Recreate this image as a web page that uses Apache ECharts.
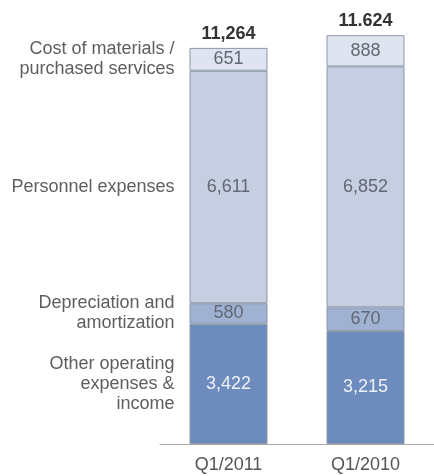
<!DOCTYPE html>
<html>
<head>
<meta charset="utf-8">
<script src="https://cdn.jsdelivr.net/npm/echarts@6/dist/echarts.min.js"></script>
<style>
  html, body { margin: 0; padding: 0; background: #fff; }
  #chart { width: 434px; height: 476px; }
</style>
</head>
<body>
<div id="chart"></div>
<script>
// periods (x axis)
const periods = ['Q1/2011', 'Q1/2010'];

// stacked segments, bottom to top
const segmentNames = [
  'Other operating\nexpenses &\nincome',
  'Depreciation and\namortization',
  'Personnel expenses',
  'Cost of materials /\npurchased services'
];
const otherOperating = [3422, 3215];
const depreciation = [580, 670];
const personnel = [6611, 6852];
const materials = [651, 888];

// totals shown above bars (as printed)
const totals = [11264, 11624];
const totalLabels = ['11,264', '11.624'];

const font = "'Liberation Sans', Arial, sans-serif";
const segmentValues = [otherOperating, depreciation, personnel, materials];
const segmentColors = ['#6d8cbd', '#a0b2d2', '#c6cee1', '#dfe4f0'];
const valueColors = ['#eef1f7', '#626773', '#626773', '#626773'];

const chart = echarts.init(document.getElementById('chart'));

const series = [];

// the visible stacked bars
segmentValues.forEach((vals, i) => {
  series.push({
    name: segmentNames[i],
    type: 'bar',
    stack: 'main',
    barWidth: 78,
    data: vals,
    itemStyle: {
      color: segmentColors[i],
      borderColor: '#8c96a8',
      borderWidth: 1
    },
    label: {
      show: true,
      position: 'inside',
      fontFamily: font,
      fontSize: 18,
      color: valueColors[i],
      formatter: (p) => p.value.toLocaleString('en-US')
    },
    silent: true
  });
});

// invisible copy on the first bar, only to place the segment names on the left
segmentValues.forEach((vals, i) => {
  series.push({
    type: 'bar',
    stack: 'names',
    barWidth: 78,
    data: [vals[0], '-'],
    itemStyle: { color: 'rgba(0,0,0,0)' },
    label: {
      show: true,
      position: 'left',
      distance: 15,
      align: 'right',
      fontFamily: font,
      fontSize: 18,
      lineHeight: 20,
      color: '#5e5e5e',
      formatter: segmentNames[i]
    },
    silent: true
  });
});

// totals above each bar
series.push({
  type: 'bar',
  barWidth: 78,
  barGap: '-100%',
  data: totals,
  itemStyle: { color: 'rgba(0,0,0,0)' },
  label: {
    show: true,
    position: 'top',
    distance: 5,
    fontFamily: font,
    fontSize: 18,
    fontWeight: 'bold',
    color: '#333',
    formatter: (p) => totalLabels[p.dataIndex]
  },
  silent: true,
  z: 1
});

chart.setOption({
  animation: false,
  grid: { left: 160, top: 22, width: 278, height: 422 },
  xAxis: {
    type: 'category',
    data: periods,
    axisLine: { lineStyle: { color: '#a8a8a8', width: 1 } },
    axisTick: { show: false },
    axisLabel: {
      fontFamily: font,
      fontSize: 18,
      color: '#555',
      margin: 12
    }
  },
  yAxis: {
    type: 'value',
    min: 0,
    max: 12000,
    show: false,
    splitLine: { show: false }
  },
  series: series
});
</script>
</body>
</html>
